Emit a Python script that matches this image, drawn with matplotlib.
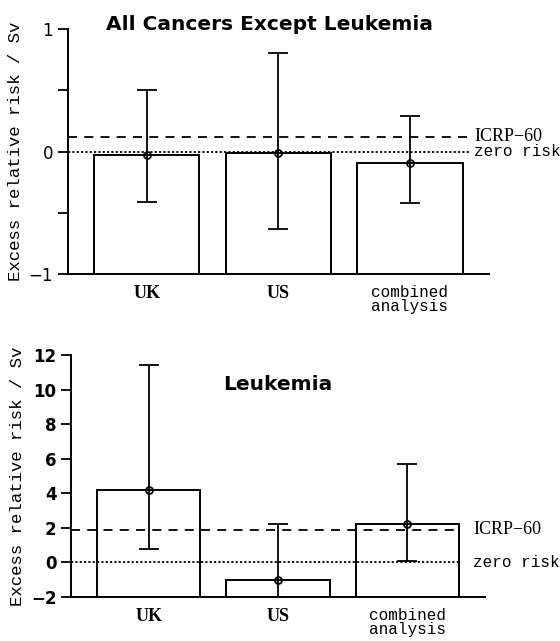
import numpy as np
import matplotlib.pyplot as plt

# ---------------------------------------------------------------
# Data
# ---------------------------------------------------------------
groups = ['UK', 'US', 'combined\nanalysis']

# All cancers except leukemia
solid_err = [-0.03, -0.01, -0.09]
solid_lo = [-0.41, -0.63, -0.42]
solid_hi = [0.50, 0.80, 0.29]
solid_icrp = 0.12

# Leukemia
leuk_err = [4.2, -1.0, 2.2]
leuk_lo = [0.8, -2.0, 0.1]
leuk_hi = [11.4, 2.2, 5.7]
leuk_icrp = 1.9

mono = 'Liberation Mono'
serif = 'Liberation Serif'

fig = plt.figure(figsize=(5.6, 6.41), dpi=100)
ax1 = fig.add_axes([0.121, 0.5725, 0.752, 0.3823])
ax2 = fig.add_axes([0.127, 0.0686, 0.739, 0.3776])


def draw_panel(ax, vals, lo, hi, icrp, ymin, ymax, title, title_x, title_y,
               line_end, label_x):
    x = np.arange(len(vals))
    vals = np.array(vals)
    ax.bar(x, vals - ymin, bottom=ymin, width=0.8, facecolor='white',
           edgecolor='black', linewidth=1.4, zorder=2)
    yerr = [vals - np.array(lo), np.array(hi) - vals]
    ax.errorbar(x, vals, yerr=yerr, fmt='o', color='black', ms=5,
                mfc='none', mec='black', mew=1.3, capsize=7, elinewidth=1.3,
                capthick=1.3, zorder=4)
    ax.plot([-0.6, line_end], [icrp, icrp], color='black', lw=1.3,
            ls=(0, (5, 4)), zorder=3, clip_on=False)
    ax.plot([-0.6, line_end], [0, 0], color='black', lw=1.3,
            ls=(0, (1.2, 1.2)), zorder=3, clip_on=False)
    ax.text(label_x, icrp, 'ICRP\u221260', family=serif, fontsize=13,
            va='center', ha='left')
    ax.text(label_x, 0, 'zero risk', family=mono, fontsize=11.5,
            va='center', ha='left')
    ax.set_xlim(-0.6, 2.6)
    ax.set_ylim(ymin, ymax)
    ax.set_xticks(x)
    ax.set_xticklabels(groups, family=mono, fontsize=11.5, linespacing=0.9)
    for lab in ax.get_xticklabels()[:2]:
        lab.set_fontweight('bold')
        lab.set_family(serif)
        lab.set_fontsize(13)
    ax.tick_params(axis='x', length=0, pad=8)
    ax.tick_params(axis='y', length=7, width=1.3, labelsize=12)
    for s in ['top', 'right']:
        ax.spines[s].set_visible(False)
    ax.spines['left'].set_linewidth(1.4)
    ax.spines['bottom'].set_linewidth(1.4)
    ax.set_ylabel('Excess relative risk / Sv', family=mono, fontsize=12.5,
                  labelpad=4)
    ax.text(title_x, title_y, title, transform=ax.transAxes, ha='center',
            va='center', fontsize=14.5, fontweight='bold', family='DejaVu Sans')


draw_panel(ax1, solid_err, solid_lo, solid_hi, solid_icrp, -1, 1,
           'All Cancers Except Leukemia', 0.48, 1.02, 2.455, 2.49)
ax1.set_yticks([-1, -0.5, 0, 0.5, 1])
ax1.set_yticklabels(['\u22121', '', '0', '', '1'], family='DejaVu Sans')

draw_panel(ax2, leuk_err, leuk_lo, leuk_hi, leuk_icrp, -2, 12,
           'Leukemia', 0.50, 0.88, 2.41, 2.51)
ax2.set_yticks(np.arange(-2, 13, 2))
ax2.set_yticklabels(['\u22122', '0', '2', '4', '6', '8', '10', '12'],
                    family='DejaVu Sans', fontweight='bold')

plt.savefig('out.png', dpi=100)
